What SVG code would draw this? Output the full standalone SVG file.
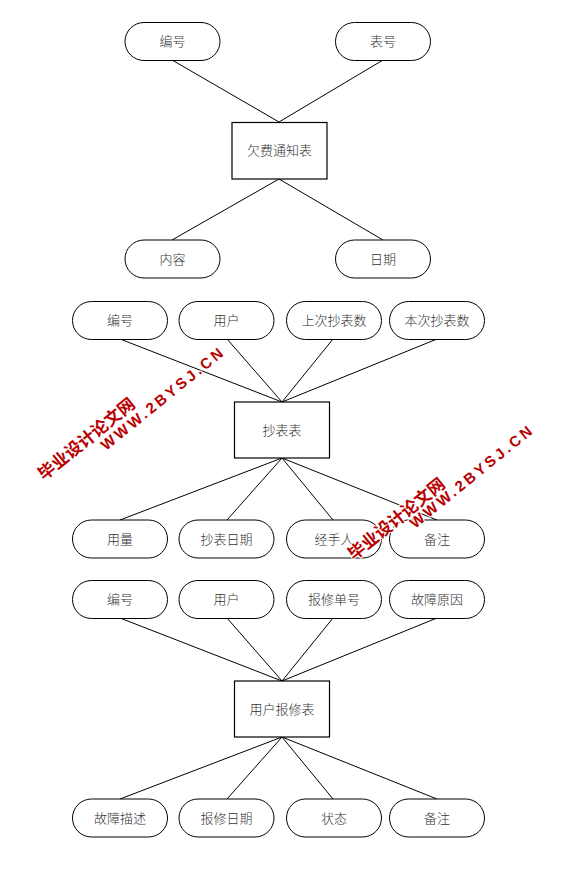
<svg xmlns="http://www.w3.org/2000/svg" width="587" height="896" viewBox="0 0 587 896">
<style>
.pill{fill:#fff;stroke:#000;stroke-width:1}
.ent{fill:#fff;stroke:#000;stroke-width:1.2}
.lbl{font-family:"Noto Sans CJK SC","Liberation Sans",sans-serif;font-size:13px;font-weight:300;fill:#333;text-anchor:middle}
.conn line{stroke:#000;stroke-width:1}
.wm{font-family:"Liberation Sans","Noto Sans CJK SC",sans-serif;font-weight:bold;fill:#b80000;stroke:#fff;stroke-width:2;paint-order:stroke}
</style>
<rect width="587" height="896" fill="#fff"/>
<g id="connectors" class="conn">
<line x1="172" y1="60" x2="279" y2="122"/>
<line x1="383" y1="60" x2="279" y2="122"/>
<line x1="279" y1="179" x2="172" y2="240"/>
<line x1="279" y1="179" x2="383" y2="240"/>
<line x1="120" y1="339" x2="282" y2="402"/>
<line x1="227" y1="339" x2="282" y2="402"/>
<line x1="333" y1="339" x2="282" y2="402"/>
<line x1="437" y1="339" x2="282" y2="402"/>
<line x1="282" y1="458" x2="120" y2="520"/>
<line x1="282" y1="458" x2="227" y2="520"/>
<line x1="282" y1="458" x2="333" y2="520"/>
<line x1="282" y1="458" x2="437" y2="520"/>
<line x1="120" y1="618" x2="282" y2="681"/>
<line x1="227" y1="618" x2="282" y2="681"/>
<line x1="333" y1="618" x2="282" y2="681"/>
<line x1="437" y1="618" x2="282" y2="681"/>
<line x1="282" y1="737" x2="120" y2="799"/>
<line x1="282" y1="737" x2="227" y2="799"/>
<line x1="282" y1="737" x2="333" y2="799"/>
<line x1="282" y1="737" x2="437" y2="799"/>
</g>
<g id="e1">
<rect class="ent" x="232" y="122.5" width="95" height="56.5"/>
<text class="lbl" x="279.5" y="155">欠费通知表</text>
</g>
<g id="a1_bianhao"><rect class="pill" x="125" y="22.5" width="95" height="38" rx="19"/><text class="lbl" x="172.5" y="46">编号</text></g>
<g id="a1_biaohao"><rect class="pill" x="335.5" y="22.5" width="95" height="38" rx="19"/><text class="lbl" x="383" y="46">表号</text></g>
<g id="a1_neirong"><rect class="pill" x="125" y="240" width="95" height="38" rx="19"/><text class="lbl" x="172.5" y="263.5">内容</text></g>
<g id="a1_riqi"><rect class="pill" x="335.5" y="240" width="95" height="38" rx="19"/><text class="lbl" x="383" y="263.5">日期</text></g>

<g id="e2">
<rect class="ent" x="234.5" y="402" width="95" height="56"/>
<text class="lbl" x="282" y="434.5">抄表表</text>
</g>
<g id="a2_bianhao"><rect class="pill" x="72.5" y="301.5" width="95" height="38" rx="19"/><text class="lbl" x="120" y="325">编号</text></g>
<g id="a2_yonghu"><rect class="pill" x="179" y="301.5" width="95" height="38" rx="19"/><text class="lbl" x="226.5" y="325">用户</text></g>
<g id="a2_shangci"><rect class="pill" x="286.5" y="301.5" width="95" height="38" rx="19"/><text class="lbl" x="334" y="325">上次抄表数</text></g>
<g id="a2_benci"><rect class="pill" x="389.5" y="301.5" width="95" height="38" rx="19"/><text class="lbl" x="437" y="325">本次抄表数</text></g>
<g id="a2_yongliang"><rect class="pill" x="72.5" y="520" width="95" height="38" rx="19"/><text class="lbl" x="120" y="543.5">用量</text></g>
<g id="a2_chaobiaoriqi"><rect class="pill" x="179" y="520" width="95" height="38" rx="19"/><text class="lbl" x="226.5" y="543.5">抄表日期</text></g>
<g id="a2_jingshouren"><rect class="pill" x="286.5" y="520" width="95" height="38" rx="19"/><text class="lbl" x="334" y="543.5">经手人</text></g>
<g id="a2_beizhu"><rect class="pill" x="389.5" y="520" width="95" height="38" rx="19"/><text class="lbl" x="437" y="543.5">备注</text></g>

<g id="e3">
<rect class="ent" x="234.5" y="681" width="95" height="56"/>
<text class="lbl" x="282" y="713.5">用户报修表</text>
</g>
<g id="a3_bianhao"><rect class="pill" x="72.5" y="580.5" width="95" height="38" rx="19"/><text class="lbl" x="120" y="604">编号</text></g>
<g id="a3_yonghu"><rect class="pill" x="179" y="580.5" width="95" height="38" rx="19"/><text class="lbl" x="226.5" y="604">用户</text></g>
<g id="a3_baoxiudanhao"><rect class="pill" x="286.5" y="580.5" width="95" height="38" rx="19"/><text class="lbl" x="334" y="604">报修单号</text></g>
<g id="a3_guzhangyuanyin"><rect class="pill" x="389.5" y="580.5" width="95" height="38" rx="19"/><text class="lbl" x="437" y="604">故障原因</text></g>
<g id="a3_guzhangmiaoshu"><rect class="pill" x="72.5" y="799" width="95" height="38" rx="19"/><text class="lbl" x="120" y="822.5">故障描述</text></g>
<g id="a3_baoxiuriqi"><rect class="pill" x="179" y="799" width="95" height="38" rx="19"/><text class="lbl" x="226.5" y="822.5">报修日期</text></g>
<g id="a3_zhuangtai"><rect class="pill" x="286.5" y="799" width="95" height="38" rx="19"/><text class="lbl" x="334" y="822.5">状态</text></g>
<g id="a3_beizhu"><rect class="pill" x="389.5" y="799" width="95" height="38" rx="19"/><text class="lbl" x="437" y="822.5">备注</text></g>

<g id="watermark1">
<text class="wm" font-size="17" transform="translate(44,481) rotate(-39)">毕业设计论文网</text>
<text class="wm" font-size="15" letter-spacing="3" transform="translate(106,451) rotate(-39)">WWW.2BYSJ.CN</text>
</g>
<g id="watermark2">
<text class="wm" font-size="17" transform="translate(354,561) rotate(-39)">毕业设计论文网</text>
<text class="wm" font-size="15" letter-spacing="3" transform="translate(415,529) rotate(-39)">WWW.2BYSJ.CN</text>
</g>
</svg>
